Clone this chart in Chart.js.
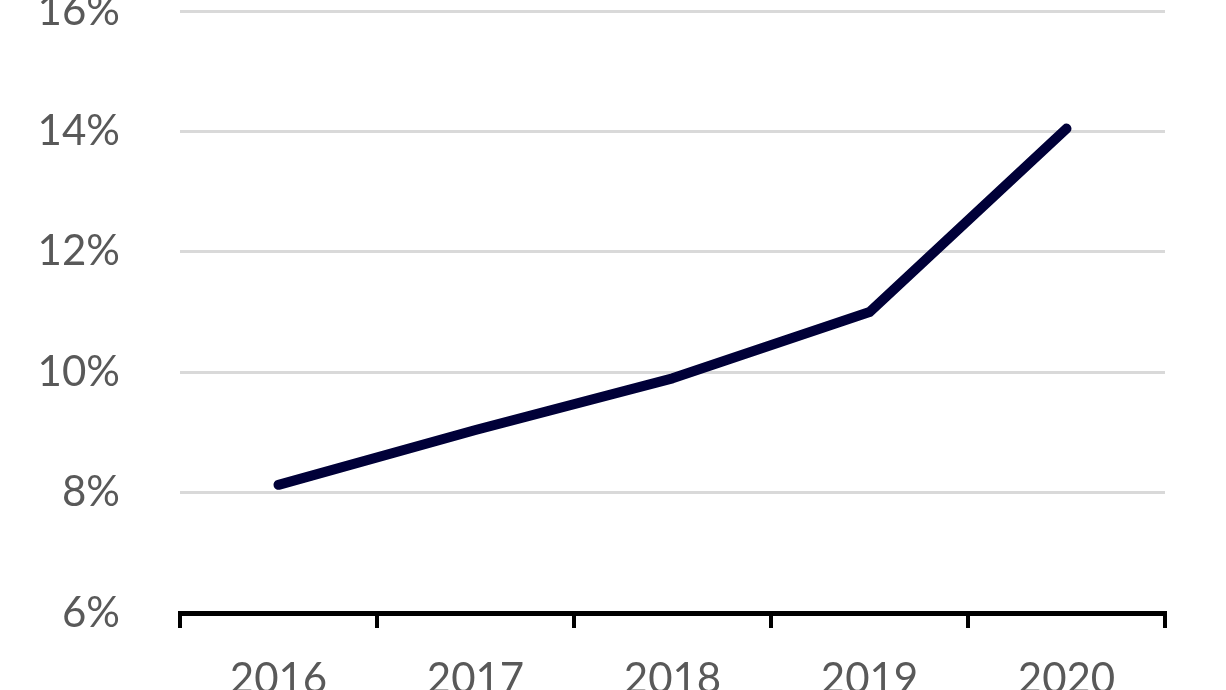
<!DOCTYPE html>
<html>
<head>
<meta charset="utf-8">
<script src="https://cdn.jsdelivr.net/npm/chart.js@4/dist/chart.umd.min.js"></script>
<style>
  html, body { margin: 0; padding: 0; background: #fff; overflow: hidden; }
  body { width: 1226px; height: 690px; position: relative; }
  #wrap { position: absolute; left: 0; top: -74px; width: 1226px; height: 814px; }
</style>
</head>
<body>
<div id="wrap"><canvas id="myChart"></canvas></div>
<script>
const years = ['2016', '2017', '2018', '2019', '2020'];
const shareValues = [8.13, 9.04, 9.9, 11.0, 14.05];
const yTicks = [6, 8, 10, 12, 14, 16];

const labelFont = { family: 'Lato', size: 42 };
const labelColor = '#595959';

const ctx = document.getElementById('myChart').getContext('2d');

const config = {
    type: 'line',
    data: {
        labels: years,
        datasets: [{
            data: shareValues,
            borderColor: '#000038',
            borderWidth: 10,
            borderCapStyle: 'round',
            borderJoinStyle: 'round',
            pointRadius: 0,
            tension: 0,
            fill: false
        }]
    },
    options: {
        responsive: true,
        maintainAspectRatio: false,
        animation: false,
        layout: {
            padding: { top: 0, right: 61, left: 0, bottom: 0 }
        },
        plugins: {
            legend: { display: false },
            tooltip: { enabled: false }
        },
        scales: {
            x: {
                offset: true,
                grid: {
                    offset: true,
                    drawOnChartArea: false,
                    drawTicks: true,
                    tickLength: 15,
                    color: '#000000',
                    lineWidth: 4
                },
                border: { display: true, color: '#000000', width: 5 },
                ticks: {
                    color: labelColor,
                    font: labelFont,
                    padding: 26,
                    maxRotation: 0
                },
                afterFit: function (scale) { scale.height = 127; }
            },
            y: {
                min: 6,
                max: 16,
                afterBuildTicks: function (scale) {
                    scale.ticks = yTicks.map(v => ({ value: v }));
                },
                grid: {
                    color: '#d9d9d9',
                    lineWidth: 3,
                    drawTicks: false
                },
                border: { display: false },
                ticks: {
                    color: labelColor,
                    font: labelFont,
                    padding: 60,
                    callback: v => v + '%'
                },
                afterFit: function (scale) { scale.width = 180; }
            }
        }
    }
};

const myChart = new Chart(ctx, config);
</script>
</body>
</html>
